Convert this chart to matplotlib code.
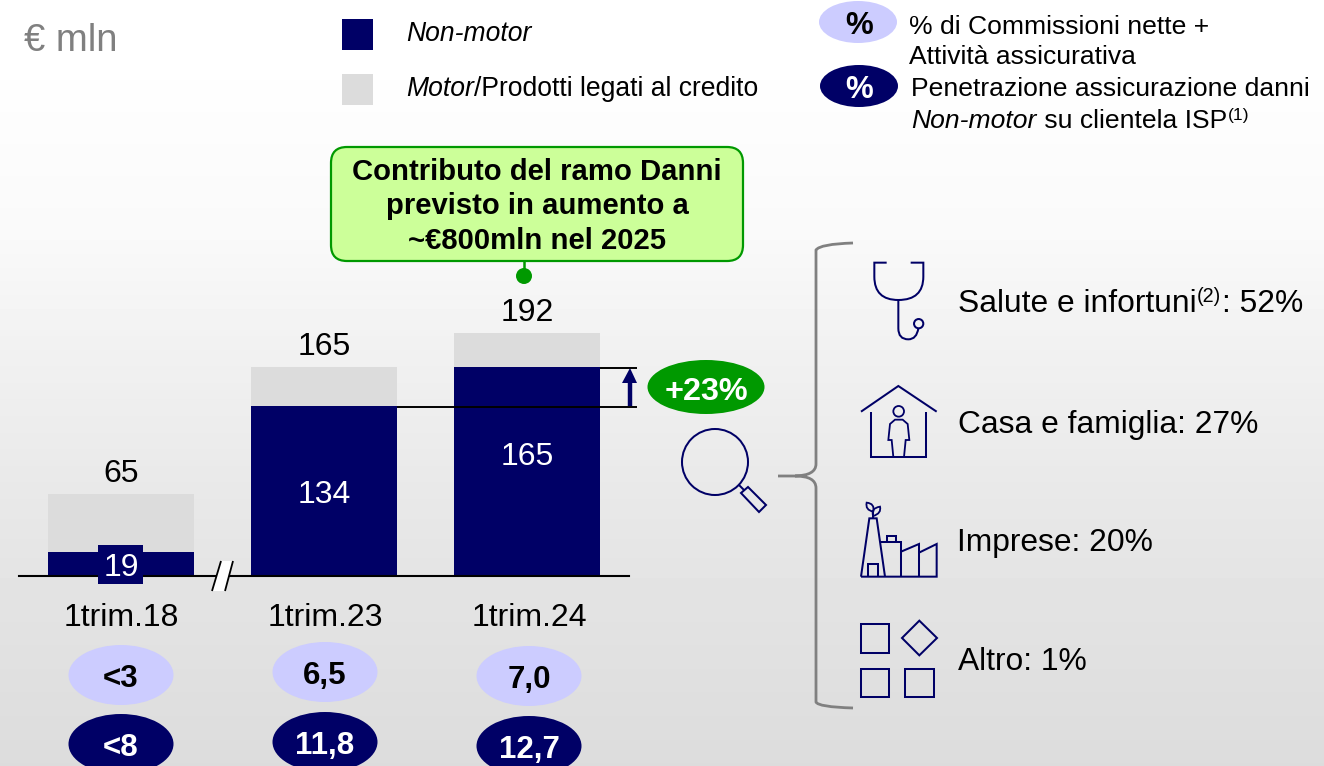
import matplotlib
matplotlib.use("Agg")
import matplotlib.pyplot as plt
import numpy as np
from matplotlib.patches import Ellipse, Rectangle, Circle, FancyBboxPatch, PathPatch, Polygon
from matplotlib.path import Path

plt.rcParams['font.family'] = ['Liberation Sans', 'DejaVu Sans']

W, H = 1324, 766
NAVY = '#000066'
GREY = '#dcdcdc'
LILAC = '#ccccff'
GREEN = '#009900'

# dati
categories = ['1trim.18', '1trim.23', '1trim.24']
non_motor = [19, 134, 165]
motor = [46, 31, 27]
totals = [65, 165, 192]
commissioni = ['<3', '6,5', '7,0']
penetrazione = ['<8', '11,8', '12,7']
breakdown = ['Salute e infortuni', 'Casa e famiglia: 27%', 'Imprese: 20%', 'Altro: 1%']

fig = plt.figure(figsize=(W / 100, H / 100), dpi=100)

# sfondo sfumato
bg = fig.add_axes([0, 0, 1, 1])
stops_y = [0, 80, 240, 350, 500, 600, 766]
stops_v = [255, 254, 249, 241, 232, 227, 220]
grad = np.interp(np.arange(H), stops_y, stops_v).reshape(-1, 1)
bg.imshow(grad, cmap='gray', vmin=0, vmax=255, aspect='auto')
bg.axis('off')

# barre: 1 unita = 1.2656 px, base a y=576
ax = fig.add_axes([19 / W, (H - 576) / H, 610 / W, 256 / H])
ax.patch.set_alpha(0)
x = np.arange(3)
ax.bar(x, non_motor, width=0.718, color=NAVY, zorder=2)
ax.bar(x, motor, bottom=non_motor, width=0.718, color=GREY, zorder=2)
ax.set_xlim(-0.502, 2.5)
ax.set_ylim(0, 256 / 1.2656)
for s in ['top', 'left', 'right']:
    ax.spines[s].set_visible(False)
ax.spines['bottom'].set_linewidth(1.5)
ax.spines['bottom'].set_zorder(3)
ax.set_yticks([])
ax.set_xticks([])
for i, t in enumerate(totals):
    ax.annotate(str(t), (i, t), xytext=(0, 20 * 0.72), textcoords='offset points',
                ha='center', va='center', fontsize=23, color='black')

# sovrapposizione in coordinate pixel
ov = fig.add_axes([0, 0, 1, 1])
ov.set_xlim(0, W)
ov.set_ylim(H, 0)
ov.axis('off')
ov.patch.set_alpha(0)


def chain(x0, y, parts, size):
    # pezzi di testo in fila: (testo, stile, dy, scala)
    r = fig.canvas.get_renderer()
    xc = x0
    for s, style, dy, scale in parts:
        t = ov.text(xc, y + dy, s, fontsize=size * scale, style=style, va='baseline', ha='left')
        xc = ov.transData.inverted().transform(t.get_window_extent(r))[1][0] + 0.5


def line(pts, color=NAVY, lw=1.45, z=2):
    xs, ys = zip(*pts)
    ov.plot(xs, ys, color=color, lw=lw, solid_capstyle='butt', solid_joinstyle='miter', zorder=z)


def curve(verts, codes, color=NAVY, lw=1.45):
    ov.add_patch(PathPatch(Path(verts, codes), fc='none', ec=color, lw=lw))


M, L, C = Path.MOVETO, Path.LINETO, Path.CURVE3

ov.text(24, 41, '€ mln', fontsize=27.5, color='#808080', va='center', ha='left')

# legenda
ov.add_patch(Rectangle((342, 19), 31, 31, fc=NAVY, ec='none'))
ov.add_patch(Rectangle((342, 74), 31, 31, fc=GREY, ec='none'))
ov.text(406, 41, 'Non-motor', fontsize=19.1, style='italic', va='baseline')
chain(406, 96, [('Motor', 'italic', 0, 1), ('/Prodotti legati al credito', 'normal', 0, 1)], 19.1)

ov.add_patch(Ellipse((858, 22), 78, 42, fc=LILAC, ec='none'))
ov.add_patch(Ellipse((859, 86), 78, 42, fc=NAVY, ec='none'))
ov.text(859, 26, '%', fontsize=22.5, weight='bold', ha='center', va='center', color='black')
ov.text(859, 90, '%', fontsize=22.5, weight='bold', ha='center', va='center', color='white')
ov.text(909, 34, '% di Commissioni nette +', fontsize=19.05, va='baseline')
ov.text(909, 64, 'Attività assicurativa', fontsize=19.05, va='baseline')
ov.text(911, 96, 'Penetrazione assicurazione danni', fontsize=19.05, va='baseline')
chain(911, 128, [('Non-motor', 'italic', 0, 1), (' su clientela ISP', 'normal', 0, 1),
                 ('(1)', 'normal', -8, 0.66)], 19.05)

# callout
ov.add_patch(FancyBboxPatch((345, 161), 384, 86, boxstyle='round,pad=14,rounding_size=16',
                            fc='#ccff99', ec=GREEN, lw=1.6))
ov.text(537, 172, 'Contributo del ramo Danni', fontsize=21.1, weight='bold', ha='center', va='center')
ov.text(537, 206, 'previsto in aumento a', fontsize=21.1, weight='bold', ha='center', va='center')
ov.text(537, 241, '~€800mln nel 2025', fontsize=21.1, weight='bold', ha='center', va='center')
line([(524, 261), (524, 277)], color=GREEN, lw=1.8)
ov.add_patch(Circle((524, 276), 8, fc=GREEN, ec='none'))

# etichette dentro le barre
ov.add_patch(Rectangle((98, 545), 45, 39, fc=NAVY, ec='none', zorder=3))
ov.text(121, 568, str(non_motor[0]), fontsize=23, color='white', ha='center', va='center', zorder=4)
ov.text(324.5, 495, str(non_motor[1]), fontsize=23, color='white', ha='center', va='center')
ov.text(527.5, 457, str(non_motor[2]), fontsize=23, color='white', ha='center', va='center')

# interruzione asse
ov.add_patch(Polygon([(212, 591), (221, 561), (233, 561), (225, 591)], fc='white', ec='none', zorder=3))
line([(212, 591), (221, 561)], color='black', lw=1.3, z=4)
line([(225, 591), (233, 561)], color='black', lw=1.3, z=4)

# crescita
line([(600, 367.5), (637, 367.5)], color='black', lw=1.4)
line([(397, 406.5), (637, 406.5)], color='black', lw=1.4)
line([(630, 406), (630, 380)], lw=3.2)
ov.add_patch(Polygon([(630, 368), (622, 383), (637, 383)], fc=NAVY, ec='none'))
ov.add_patch(Ellipse((706, 387), 117, 54, fc=GREEN, ec='none'))
ov.text(706, 392, '+23%', fontsize=23.3, weight='bold', color='white', ha='center', va='center')

# assi x e ovali
lab_y = [675, 672, 676]
dark_y = [744, 742, 746]
cx = [121, 325, 529]
for i, c in enumerate(categories):
    ov.text(cx[i], 618, c, fontsize=23, ha='center', va='center')
    ov.add_patch(Ellipse((cx[i], lab_y[i]), 105, 60, fc=LILAC, ec='none'))
    ov.add_patch(Ellipse((cx[i], dark_y[i]), 105, 60, fc=NAVY, ec='none'))
    ov.text(cx[i], lab_y[i] + 4, commissioni[i], fontsize=22.5, weight='bold', ha='center', va='center')
    ov.text(cx[i], dark_y[i] + 4, penetrazione[i], fontsize=22.5, weight='bold', color='white',
            ha='center', va='center')

# lente
ov.add_patch(Circle((715, 462), 33, fc='none', ec=NAVY, lw=1.45))
line([(739, 485), (744, 490)])
ov.add_patch(Polygon([(741, 493), (748, 487), (766, 505), (759, 512)], fc='none', ec=NAVY, lw=1.45))

# graffa
curve([(853, 243), (820, 244), (816, 250), (816, 464), (816, 475.5), (795, 476),
       (778, 476), (795, 476), (816, 476), (816, 488), (816, 702), (818, 707), (853, 708)],
      [M, C, C, L, C, C, L, M, C, C, L, C, C], color='#808080', lw=2)


def z1(*p):
    return (780 + p[0] / 3, 230 + p[1] / 3)


def z2(*p):
    return (780 + p[0] / 3, 480 + p[1] / 3)


# stetoscopio
curve([z1(320, 98), z1(283, 98), z1(283, 140), z1(283, 210), z1(355, 210),
       z1(430, 210), z1(430, 140), z1(430, 98), z1(392, 98)],
      [M, L, L, C, C, C, C, L, L])
curve([z1(355, 210), z1(355, 295), z1(355, 328), z1(385, 328), z1(410, 328), z1(415, 295)],
      [M, L, C, C, C, C])
ov.add_patch(Circle(z1(416, 281), 13 / 3 + 0.3, fc='none', ec=NAVY, lw=1.45))

# casa
line([z1(243, 545), z1(355, 468), z1(470, 545)])
line([z1(273, 545), z1(273, 681), z1(439, 681), z1(439, 545)])
ov.add_patch(Circle(z1(356, 544), 16 / 3, fc='none', ec=NAVY, lw=1.3))
line([z1(340, 681), z1(335, 630), z1(325, 630), z1(330, 582), z1(345, 569), z1(368, 569),
      z1(383, 582), z1(388, 630), z1(377, 630), z1(372, 681)], lw=1.3)

# fabbrica
line([z2(243, 290), z2(470, 290), z2(470, 192), z2(417, 218)])
line([z2(243, 290), z2(268, 115), z2(290, 115), z2(315, 290)])
line([z2(264, 290), z2(264, 252), z2(294, 252), z2(294, 290)])
line([z2(303, 187), z2(363, 187), z2(363, 290)])
line([z2(320, 187), z2(320, 167), z2(347, 167), z2(347, 187)])
line([z2(363, 215), z2(417, 192), z2(417, 290)])
line([z2(280, 115), z2(280, 95)])
curve([z2(280, 95), z2(255, 90), z2(260, 68), z2(285, 70), z2(280, 95)], [M, C, C, C, C], lw=1.3)
curve([z2(280, 108), z2(270, 85), z2(300, 80), z2(305, 100), z2(280, 108)], [M, C, C, C, C], lw=1.3)

# altro
for a, b in [((242, 432), (328, 518)), ((242, 566), (328, 651)), ((375, 566), (461, 651))]:
    p, q = z2(*a), z2(*b)
    ov.add_patch(Rectangle(p, q[0] - p[0], q[1] - p[1], fc='none', ec=NAVY, lw=1.45))
ov.add_patch(Polygon([z2(418, 422), z2(471, 474), z2(418, 526), z2(366, 474)], fc='none', ec=NAVY, lw=1.45))

# testi a destra
chain(958, 312, [(breakdown[0], 'normal', 0, 1), ('(2)', 'normal', -10, 0.62), (': 52%', 'normal', 0, 1)], 22.9)
ov.text(958, 433, breakdown[1], fontsize=22.9, va='baseline')
ov.text(957, 551, breakdown[2], fontsize=22.9, va='baseline')
ov.text(958, 670, breakdown[3], fontsize=22.9, va='baseline')

fig.savefig('out.png', dpi=100)
